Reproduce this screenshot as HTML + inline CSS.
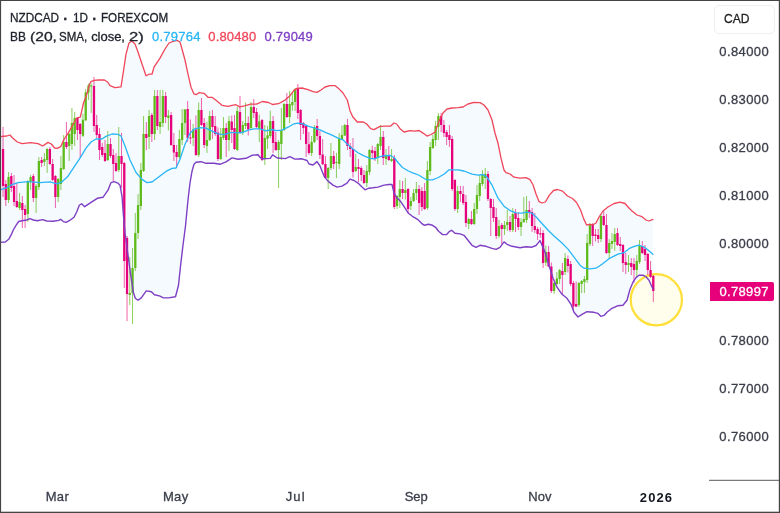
<!DOCTYPE html>
<html><head><meta charset="utf-8"><title>NZDCAD chart</title>
<style>
html,body{margin:0;padding:0;background:#fff;}
body{width:780px;height:513px;position:relative;overflow:hidden;font-family:"Liberation Sans",sans-serif;font-size:13px;color:#20232d;}
.t{position:absolute;white-space:nowrap;line-height:16px;-webkit-text-stroke:0.3px currentColor;}
.row{position:absolute;left:0;top:0;width:0;height:0;}
.cad{position:absolute;left:713.8px;top:5px;width:61.4px;height:28.8px;box-sizing:border-box;border:1px solid #efefef;border-radius:5px;}
.last{position:absolute;left:709.9px;top:281.9px;width:64.5px;height:19.1px;background:#e6007a;border-radius:0 2px 2px 0;color:#fff;}
</style></head><body>
<svg width="780" height="513" viewBox="0 0 780 513" style="position:absolute;left:0;top:0">
<polygon points="0.0,136.7 6.7,136.0 10.0,135.0 12.7,138.0 17.3,142.0 22.0,143.7 30.7,142.7 38.0,143.6 42.7,146.0 48.0,142.4 51.3,144.0 54.7,148.0 57.3,148.4 60.7,146.7 63.3,140.7 68.0,133.3 72.7,125.3 76.5,118.2 80.3,117.2 83.5,103.0 87.0,93.8 89.6,84.0 91.0,81.6 94.0,80.4 98.6,80.0 104.4,80.0 107.6,82.0 110.0,85.6 115.0,87.6 121.0,86.8 123.0,74.2 126.0,54.1 129.0,43.0 132.0,41.0 135.0,44.0 138.0,52.0 142.0,64.0 146.0,75.8 149.0,74.2 152.0,74.2 154.0,67.1 160.0,58.1 165.0,49.0 169.0,43.0 173.0,41.4 177.0,40.4 180.0,42.0 182.0,49.0 185.0,60.0 188.0,74.2 191.0,87.2 194.0,93.9 196.0,94.7 199.0,92.7 204.0,93.3 208.0,97.3 212.0,97.3 216.0,100.3 222.0,105.3 228.0,106.3 232.0,105.3 236.0,104.7 239.5,106.9 244.6,105.9 250.6,104.2 256.5,104.2 262.5,101.5 268.5,102.5 272.5,104.5 278.5,103.7 285.0,100.1 290.0,95.7 294.0,90.4 297.0,88.4 302.0,88.0 308.0,89.6 313.0,91.6 317.0,92.4 321.0,90.0 325.0,87.0 330.0,85.6 335.0,85.6 338.5,88.4 343.0,93.0 347.3,100.0 350.0,110.7 352.7,116.7 357.3,122.0 363.3,122.0 366.7,124.0 370.7,128.7 374.0,129.6 380.0,126.4 386.0,126.2 390.7,126.0 394.0,123.0 396.7,124.0 400.0,128.7 404.0,132.0 410.0,130.6 415.0,131.1 419.0,130.5 423.0,133.1 427.0,136.1 431.0,134.5 435.0,132.1 439.0,121.1 443.0,113.0 447.0,109.0 452.0,108.0 458.0,107.6 463.0,107.0 468.0,104.0 474.0,102.4 480.0,102.6 484.0,105.0 488.0,110.0 492.0,120.0 495.0,133.0 498.0,143.2 501.0,158.2 504.0,170.0 506.0,172.7 510.0,174.0 514.0,177.2 520.0,178.2 526.0,177.6 530.0,179.6 533.0,184.8 536.0,194.0 539.0,201.6 542.0,203.0 545.4,202.0 549.4,195.1 553.5,190.5 557.5,189.5 562.5,191.1 567.5,196.0 572.5,198.5 576.5,202.5 580.6,210.0 583.6,218.6 586.6,225.0 590.0,224.3 593.0,224.8 596.0,223.0 599.0,217.0 603.0,211.0 608.0,207.0 614.0,203.5 620.0,202.1 625.0,203.5 629.0,208.0 632.0,211.1 637.0,215.0 642.0,216.7 646.0,220.0 649.0,221.0 652.9,219.4 652.9,289.0 649.0,280.2 646.0,276.8 643.0,275.2 639.0,275.2 636.0,277.6 633.0,282.2 630.0,289.3 627.0,300.3 623.0,305.3 618.0,305.7 612.0,308.3 607.0,312.3 604.0,315.4 601.0,316.4 598.0,313.4 594.0,312.3 587.0,311.7 582.0,314.4 578.0,317.0 574.0,312.3 571.0,304.3 567.0,298.3 562.0,294.3 557.0,287.2 553.0,278.2 549.0,265.2 545.0,252.1 542.0,245.1 540.0,240.5 538.0,243.1 536.0,245.5 532.0,247.2 526.0,246.7 520.0,247.7 512.0,246.3 507.0,244.3 504.0,241.9 500.0,247.3 496.0,249.4 492.0,248.4 486.0,246.3 480.0,245.3 476.0,247.3 472.0,245.3 468.0,240.3 464.0,235.3 460.0,233.9 455.0,233.3 451.6,230.3 449.6,231.3 446.6,234.5 442.6,234.6 438.6,231.3 435.5,227.3 432.5,225.3 428.5,224.3 424.5,225.3 421.5,223.3 417.5,219.3 412.4,216.3 408.4,213.3 404.4,207.2 400.4,201.2 396.4,197.2 394.0,193.2 392.0,184.5 389.0,184.5 384.0,185.1 378.0,187.1 373.0,187.8 369.0,188.2 365.0,189.8 362.0,187.1 358.0,183.1 354.0,180.5 350.0,179.1 347.0,183.1 342.0,186.1 337.0,187.1 333.0,185.1 328.0,181.1 324.0,176.1 320.0,166.0 317.0,161.6 313.0,165.0 309.0,164.0 307.0,160.5 302.0,158.8 294.8,159.1 289.9,156.6 285.5,158.6 277.3,158.0 272.6,154.8 270.2,158.4 262.5,158.8 260.0,157.3 258.0,154.7 252.0,155.3 246.0,158.3 238.0,159.3 232.0,157.9 226.0,161.9 220.0,164.3 214.0,163.3 206.0,163.3 201.0,161.7 196.0,162.3 194.0,164.3 192.0,171.4 190.0,183.0 188.0,200.0 185.5,226.0 182.9,246.0 180.5,266.2 178.5,285.2 175.5,296.7 168.4,297.9 163.4,297.9 159.4,295.9 154.4,294.7 151.4,291.7 146.3,290.9 141.3,297.9 138.0,300.3 135.3,298.3 133.3,292.3 130.3,272.0 127.3,250.0 125.0,233.0 123.5,216.4 122.0,196.3 120.0,185.2 118.0,183.2 114.0,181.6 111.0,182.6 108.0,190.2 103.0,197.3 97.3,198.3 90.7,202.7 84.7,206.7 81.6,203.7 79.3,205.3 76.7,212.0 74.0,217.3 69.3,220.7 66.0,222.4 63.3,221.6 60.7,219.3 58.7,220.4 53.3,221.3 46.7,221.0 42.7,219.6 37.3,220.7 33.3,220.0 30.0,218.7 26.7,220.0 22.0,220.7 18.7,221.5 16.0,225.3 13.3,230.0 11.3,234.7 8.7,239.3 5.3,242.0 0.0,242.4" fill="#2196f3" fill-opacity="0.05"/>
<circle cx="656.35" cy="299.8" r="25.6" fill="#ffeb3b" fill-opacity="0.1" stroke="#ffdf38" stroke-width="2.2"/>
<path d="M8.56 172.0V203.0M19.58 193.0V210.0M27.85 180.0V222.0M30.60 175.0V190.0M36.11 184.0V213.0M38.87 157.0V190.0M44.38 153.0V166.0M47.13 148.0V173.0M58.16 178.0V202.0M60.91 156.0V190.0M63.67 135.0V170.0M69.18 133.0V161.0M71.93 108.0V150.0M74.69 112.0V146.0M82.95 113.7V137.0M85.71 89.0V121.0M88.46 83.8V100.0M91.22 83.5V113.0M107.75 131.0V161.0M118.77 127.0V172.0M129.79 257.0V305.0M132.55 248.0V324.0M135.30 213.0V271.0M138.06 194.0V239.0M140.82 163.0V210.0M143.57 116.0V172.0M149.08 110.0V149.0M154.59 90.0V140.0M160.10 90.0V134.0M162.86 90.0V127.0M168.37 110.0V130.5M179.39 130.0V159.0M182.14 109.0V145.0M184.90 109.0V135.0M193.17 124.0V146.0M198.68 102.5V157.0M206.94 121.5V153.0M209.70 111.0V141.0M220.72 128.0V160.0M223.47 117.0V140.0M228.98 116.0V151.0M237.25 107.0V151.0M242.76 121.0V135.0M245.52 102.5V129.0M251.03 102.0V129.0M259.29 114.7V142.0M264.80 125.0V165.0M267.56 126.0V149.0M270.31 110.7V138.0M278.58 140.0V188.0M281.34 108.0V160.0M284.09 103.0V131.0M289.60 91.0V123.0M292.36 92.0V110.7M295.11 88.0V111.0M311.64 136.0V156.0M314.40 125.0V143.0M328.18 167.0V189.0M330.93 143.0V170.0M336.44 153.0V178.0M339.20 133.0V169.0M341.95 125.5V140.0M344.71 124.0V136.0M355.73 154.0V172.0M366.75 165.0V187.0M369.50 149.0V175.0M377.77 143.0V164.0M380.53 125.0V150.0M386.04 149.0V165.0M391.55 149.0V162.0M397.06 195.0V209.0M399.81 180.0V208.0M405.32 178.0V199.5M410.83 197.0V210.0M413.59 189.0V202.0M416.35 182.0V200.0M427.37 161.0V210.0M430.12 142.0V175.0M432.88 135.0V149.0M435.63 121.0V146.0M438.39 113.0V140.0M457.67 186.0V213.0M468.70 218.0V229.0M474.21 203.0V225.0M476.96 185.0V214.0M479.72 175.0V201.0M482.47 170.0V186.0M485.23 168.0V189.0M499.00 220.0V238.0M504.51 221.0V235.0M507.27 210.0V231.0M512.78 208.0V232.0M521.05 218.0V236.0M523.80 197.0V223.0M526.56 196.0V223.0M545.84 245.5V266.0M554.11 282.0V294.0M556.87 272.0V285.0M559.62 269.0V284.0M565.13 253.0V275.0M578.91 282.0V307.0M581.66 280.0V293.0M584.42 276.0V293.0M587.17 234.0V283.0M589.93 223.0V246.0M600.95 214.0V242.0M609.22 239.0V259.0M611.97 233.0V249.0M614.73 228.0V251.0M628.50 255.0V272.0M636.77 255.0V278.0M639.52 240.0V264.0" stroke="#5fbb1c" stroke-opacity="0.72" stroke-width="1" fill="none"/>
<path d="M3.05 127.0V197.0M5.81 180.0V206.0M11.32 173.0V192.0M14.07 175.0V206.0M16.83 183.0V208.0M22.34 196.0V228.0M25.09 205.0V228.0M33.36 174.0V202.0M41.62 157.0V167.0M49.89 147.0V165.0M52.65 159.0V181.0M55.40 175.0V208.0M66.42 122.0V149.0M77.44 117.0V140.0M80.20 123.0V158.0M93.97 77.0V132.0M96.73 115.0V138.0M99.49 128.0V160.0M102.24 143.0V157.0M105.00 140.0V162.0M110.51 138.0V158.0M113.26 149.0V181.0M116.02 153.0V172.0M121.53 133.0V188.0M124.28 162.0V288.0M127.04 236.0V321.0M146.33 122.0V150.0M151.84 113.0V142.0M157.35 90.0V130.0M165.61 92.0V123.0M171.12 112.0V146.0M173.88 133.0V161.0M176.63 145.0V168.0M187.66 101.0V142.0M190.41 119.5V144.0M195.92 115.5V156.0M201.43 98.0V126.0M204.19 118.0V148.0M212.45 110.0V139.0M215.21 116.0V136.0M217.96 127.5V161.0M226.23 123.0V157.0M231.74 115.5V143.0M234.50 115.0V150.0M240.01 96.0V134.0M248.27 116.5V135.5M253.78 99.0V118.0M256.54 108.0V128.0M262.05 119.0V161.0M273.07 116.0V153.0M275.82 132.0V151.0M286.85 93.0V118.0M297.87 84.0V119.0M300.62 109.0V140.0M303.38 122.0V134.0M306.13 125.0V157.0M308.89 132.0V155.0M317.15 119.0V140.0M319.91 131.0V159.0M322.66 139.0V165.0M325.42 156.0V179.0M333.69 151.0V169.0M347.46 119.0V150.0M350.22 143.0V157.0M352.97 138.0V177.5M358.48 159.0V182.0M361.24 166.0V181.0M363.99 170.0V184.0M372.26 145.7V158.5M375.02 147.0V161.0M383.28 131.0V165.0M388.79 146.0V161.0M394.30 155.0V209.0M402.57 181.0V199.0M408.08 188.0V213.0M419.10 185.0V215.0M421.86 187.0V211.0M424.61 183.0V210.0M441.14 113.0V132.0M443.90 120.0V137.0M446.65 130.0V145.0M449.41 125.0V147.0M452.16 136.0V191.0M454.92 179.0V211.0M460.43 186.0V202.0M463.19 186.0V205.0M465.94 195.0V227.0M471.45 211.0V225.0M487.98 171.0V201.0M490.74 198.0V236.0M493.49 199.0V222.0M496.25 208.0V239.0M501.76 223.0V244.0M510.03 216.0V232.0M515.54 209.0V232.0M518.29 212.0V230.0M529.31 201.0V218.0M532.07 208.0V232.0M534.82 213.0V233.0M537.58 227.0V240.0M540.33 227.5V238.0M543.09 230.0V268.0M548.60 246.0V267.0M551.35 262.5V293.0M562.38 263.0V294.0M567.89 255.5V272.5M570.64 261.0V286.0M573.40 281.0V310.0M576.15 281.5V307.0M592.68 223.0V246.0M595.44 229.0V241.5M598.19 229.0V243.0M603.71 211.0V226.0M606.46 214.0V254.0M617.48 228.0V246.0M620.24 237.0V251.0M622.99 244.0V272.0M625.75 253.0V274.0M631.26 258.0V275.0M634.01 258.0V283.0M642.28 241.0V254.0M645.03 245.0V261.0M647.79 253.0V275.0M650.55 261.0V278.0M653.30 275.0V302.0" stroke="#e6007a" stroke-opacity="0.62" stroke-width="1" fill="none"/>
<path d="M8.56 177.0V200.0M19.58 202.0V208.0M27.85 181.0V214.0M30.60 177.0V182.0M36.11 186.0V198.0M38.87 161.0V187.0M44.38 159.0V162.0M47.13 149.0V160.0M58.16 179.0V197.0M60.91 168.0V184.0M63.67 142.0V169.0M69.18 134.0V146.0M71.93 123.0V144.0M74.69 118.0V134.0M82.95 119.7V135.7M85.71 92.3V120.3M88.46 85.4V92.5M91.22 85.5V86.5M107.75 144.0V160.0M118.77 156.0V170.0M129.79 293.0V295.0M132.55 268.0V293.0M135.30 233.0V268.0M138.06 205.0V233.0M140.82 170.0V206.0M143.57 134.0V171.0M149.08 116.0V137.0M154.59 96.0V134.0M160.10 122.0V127.0M162.86 96.0V123.0M168.37 115.5V118.0M179.39 139.0V157.0M182.14 123.0V140.0M184.90 109.5V123.0M193.17 129.5V138.0M198.68 110.0V155.0M206.94 140.0V146.0M209.70 116.0V140.0M220.72 137.0V159.0M223.47 128.0V138.0M228.98 121.0V140.0M237.25 111.0V150.0M242.76 125.0V133.0M245.52 123.0V126.0M251.03 107.0V128.0M259.29 121.3V128.7M264.80 138.0V159.0M267.56 135.3V138.7M270.31 121.0V136.0M278.58 142.0V150.0M281.34 130.0V144.0M284.09 104.0V130.0M289.60 104.0V117.0M292.36 102.0V105.3M295.11 89.0V102.0M311.64 142.0V153.0M314.40 127.0V142.0M328.18 168.0V178.0M330.93 156.0V168.0M336.44 162.0V163.0M339.20 139.0V164.0M341.95 135.0V139.5M344.71 125.0V135.5M355.73 167.0V171.0M366.75 171.0V183.0M369.50 150.0V172.0M377.77 144.0V158.0M380.53 137.0V146.0M386.04 155.0V159.0M391.55 159.0V161.0M397.06 196.0V206.0M399.81 189.0V197.0M405.32 190.0V193.0M410.83 201.0V206.0M413.59 193.0V201.0M416.35 189.0V193.0M427.37 170.0V208.0M430.12 147.0V171.0M432.88 139.0V148.0M435.63 126.0V140.0M438.39 116.0V127.0M457.67 191.0V209.0M468.70 219.0V224.0M474.21 209.0V224.0M476.96 195.0V209.0M479.72 183.0V196.0M482.47 175.0V184.0M485.23 174.0V178.0M499.00 226.0V236.0M504.51 225.0V229.0M507.27 222.0V225.0M512.78 214.0V230.0M521.05 222.0V227.0M523.80 219.0V222.0M526.56 210.0V220.0M545.84 252.0V262.5M554.11 283.0V291.0M556.87 278.5V284.0M559.62 270.0V279.0M565.13 258.0V272.0M578.91 283.0V305.0M581.66 281.0V284.0M584.42 279.0V282.0M587.17 243.0V280.0M589.93 224.0V244.0M600.95 216.0V239.0M609.22 243.0V253.0M611.97 241.0V244.0M614.73 234.0V242.0M628.50 263.0V265.0M636.77 261.0V270.0M639.52 246.0V262.0" stroke="#5fbb1c" stroke-width="2.3" fill="none"/>
<path d="M3.05 149.0V186.0M5.81 184.0V200.0M11.32 176.0V188.0M14.07 186.0V202.0M16.83 201.0V207.0M22.34 203.0V210.0M25.09 209.0V215.0M33.36 176.0V198.0M41.62 160.0V163.0M49.89 149.0V164.0M52.65 164.0V180.0M55.40 176.0V197.0M66.42 142.0V147.0M77.44 118.0V130.0M80.20 124.0V134.0M93.97 86.0V126.0M96.73 125.0V135.0M99.49 134.0V150.0M102.24 147.0V155.0M105.00 153.0V161.0M110.51 144.0V156.0M113.26 155.0V164.0M116.02 163.0V171.0M121.53 156.0V164.0M124.28 163.0V261.0M127.04 238.0V294.0M146.33 134.0V138.0M151.84 115.0V134.0M157.35 96.0V126.0M165.61 96.0V117.0M171.12 115.0V145.0M173.88 145.0V152.5M176.63 152.0V157.0M187.66 109.0V138.0M190.41 137.5V138.5M195.92 129.5V155.0M201.43 110.0V125.0M204.19 123.0V145.0M212.45 116.0V127.0M215.21 126.0V134.0M217.96 132.5V159.0M226.23 128.0V140.0M231.74 121.5V130.0M234.50 128.0V149.0M240.01 112.0V133.0M248.27 123.0V129.5M253.78 107.0V113.0M256.54 112.0V127.0M262.05 120.0V160.0M273.07 121.0V143.0M275.82 142.0V150.0M286.85 104.0V117.0M297.87 89.0V113.0M300.62 110.0V125.0M303.38 123.0V128.0M306.13 126.0V144.0M308.89 144.3V153.0M317.15 126.0V136.0M319.91 136.0V155.0M322.66 154.5V164.3M325.42 164.0V178.0M333.69 156.0V164.0M347.46 125.0V146.0M350.22 146.0V149.0M352.97 149.0V172.0M358.48 167.0V169.0M361.24 168.0V175.0M363.99 175.0V183.0M372.26 150.3V153.0M375.02 151.0V159.0M383.28 137.0V158.0M388.79 155.0V160.0M394.30 158.0V207.0M402.57 189.0V193.0M408.08 189.0V209.0M419.10 189.0V203.0M421.86 191.0V207.0M424.61 191.0V209.0M441.14 116.0V125.0M443.90 125.0V133.0M446.65 132.0V137.0M449.41 135.0V140.0M452.16 139.0V189.0M454.92 180.0V209.0M460.43 191.0V194.0M463.19 194.0V203.0M465.94 202.0V223.0M471.45 219.0V224.0M487.98 174.0V199.0M490.74 199.0V208.0M493.49 207.0V218.0M496.25 217.0V236.0M501.76 225.0V229.0M510.03 222.0V230.0M515.54 213.0V219.0M518.29 218.0V227.0M529.31 210.0V213.0M532.07 212.0V226.0M534.82 226.0V230.0M537.58 229.0V234.0M540.33 233.2V234.6M543.09 233.0V263.0M548.60 252.0V266.5M551.35 266.5V291.0M562.38 271.0V275.0M567.89 259.0V266.0M570.64 264.0V284.0M573.40 283.0V306.5M576.15 304.0V306.5M592.68 224.0V236.0M595.44 234.5V236.0M598.19 235.0V239.0M603.71 216.0V225.0M606.46 225.0V253.0M617.48 233.0V245.0M620.24 244.0V246.0M622.99 245.0V263.0M625.75 262.0V265.0M631.26 263.0V267.0M634.01 264.0V270.0M642.28 246.0V253.0M645.03 249.0V255.0M647.79 254.0V270.0M650.55 270.0V277.0M653.30 276.0V291.0" stroke="#e6007a" stroke-width="2.3" fill="none"/>
<polyline points="0.0,189.8 6.0,188.2 12.0,184.6 18.0,182.6 28.0,181.6 40.0,182.6 50.0,181.8 57.0,183.8 62.0,181.8 68.0,176.2 74.0,167.1 80.0,158.1 86.0,148.1 91.0,142.0 96.0,139.0 102.0,139.0 106.0,136.4 112.0,134.0 118.0,134.4 121.0,136.0 125.0,146.0 130.0,160.0 136.0,172.5 142.0,179.4 147.0,182.6 152.0,182.0 158.0,177.4 166.0,171.4 172.0,168.4 176.0,168.0 180.0,159.3 185.0,144.3 190.0,133.2 194.0,129.2 200.0,127.6 206.0,128.2 212.0,131.2 218.0,133.8 224.0,134.6 230.0,132.6 236.0,132.6 242.0,132.6 248.0,130.2 254.0,128.8 260.0,128.8 266.0,130.8 272.0,129.5 276.0,130.6 282.0,130.2 288.0,127.2 294.0,123.8 298.0,123.2 303.0,123.8 308.0,126.2 314.0,127.8 320.0,129.8 326.0,132.6 332.0,135.2 338.0,138.2 343.0,139.8 347.0,143.9 352.0,148.3 358.0,152.7 364.0,155.9 370.0,158.3 374.4,158.9 379.4,156.9 384.5,155.6 390.5,155.5 394.5,158.0 398.0,162.5 402.4,167.5 408.4,171.0 412.6,172.8 418.6,175.0 422.5,177.5 426.5,179.8 432.5,179.8 438.3,177.5 444.3,174.0 449.0,169.8 453.0,169.8 458.0,169.8 464.0,171.0 472.0,174.1 478.0,175.1 483.0,174.5 487.0,177.1 492.0,185.1 498.0,198.2 504.0,206.2 510.0,210.6 516.0,212.8 522.0,213.2 527.0,212.2 532.0,213.2 536.4,217.2 542.4,224.0 548.4,230.5 554.0,236.0 562.0,243.0 568.0,249.1 574.0,257.1 580.0,265.2 584.0,268.2 590.0,268.8 596.0,268.2 602.0,264.2 610.0,258.1 618.0,254.1 624.0,252.7 630.0,248.1 635.0,246.1 639.0,245.1 644.0,247.1 648.0,250.1 652.9,254.3" fill="none" stroke="#29b6f6" stroke-width="1.3" stroke-linejoin="round" stroke-linecap="round"/>
<polyline points="0.0,136.7 6.7,136.0 10.0,135.0 12.7,138.0 17.3,142.0 22.0,143.7 30.7,142.7 38.0,143.6 42.7,146.0 48.0,142.4 51.3,144.0 54.7,148.0 57.3,148.4 60.7,146.7 63.3,140.7 68.0,133.3 72.7,125.3 76.5,118.2 80.3,117.2 83.5,103.0 87.0,93.8 89.6,84.0 91.0,81.6 94.0,80.4 98.6,80.0 104.4,80.0 107.6,82.0 110.0,85.6 115.0,87.6 121.0,86.8 123.0,74.2 126.0,54.1 129.0,43.0 132.0,41.0 135.0,44.0 138.0,52.0 142.0,64.0 146.0,75.8 149.0,74.2 152.0,74.2 154.0,67.1 160.0,58.1 165.0,49.0 169.0,43.0 173.0,41.4 177.0,40.4 180.0,42.0 182.0,49.0 185.0,60.0 188.0,74.2 191.0,87.2 194.0,93.9 196.0,94.7 199.0,92.7 204.0,93.3 208.0,97.3 212.0,97.3 216.0,100.3 222.0,105.3 228.0,106.3 232.0,105.3 236.0,104.7 239.5,106.9 244.6,105.9 250.6,104.2 256.5,104.2 262.5,101.5 268.5,102.5 272.5,104.5 278.5,103.7 285.0,100.1 290.0,95.7 294.0,90.4 297.0,88.4 302.0,88.0 308.0,89.6 313.0,91.6 317.0,92.4 321.0,90.0 325.0,87.0 330.0,85.6 335.0,85.6 338.5,88.4 343.0,93.0 347.3,100.0 350.0,110.7 352.7,116.7 357.3,122.0 363.3,122.0 366.7,124.0 370.7,128.7 374.0,129.6 380.0,126.4 386.0,126.2 390.7,126.0 394.0,123.0 396.7,124.0 400.0,128.7 404.0,132.0 410.0,130.6 415.0,131.1 419.0,130.5 423.0,133.1 427.0,136.1 431.0,134.5 435.0,132.1 439.0,121.1 443.0,113.0 447.0,109.0 452.0,108.0 458.0,107.6 463.0,107.0 468.0,104.0 474.0,102.4 480.0,102.6 484.0,105.0 488.0,110.0 492.0,120.0 495.0,133.0 498.0,143.2 501.0,158.2 504.0,170.0 506.0,172.7 510.0,174.0 514.0,177.2 520.0,178.2 526.0,177.6 530.0,179.6 533.0,184.8 536.0,194.0 539.0,201.6 542.0,203.0 545.4,202.0 549.4,195.1 553.5,190.5 557.5,189.5 562.5,191.1 567.5,196.0 572.5,198.5 576.5,202.5 580.6,210.0 583.6,218.6 586.6,225.0 590.0,224.3 593.0,224.8 596.0,223.0 599.0,217.0 603.0,211.0 608.0,207.0 614.0,203.5 620.0,202.1 625.0,203.5 629.0,208.0 632.0,211.1 637.0,215.0 642.0,216.7 646.0,220.0 649.0,221.0 652.9,219.4" fill="none" stroke="#f0465a" stroke-width="1.3" stroke-linejoin="round" stroke-linecap="round"/>
<polyline points="0.0,242.4 5.3,242.0 8.7,239.3 11.3,234.7 13.3,230.0 16.0,225.3 18.7,221.5 22.0,220.7 26.7,220.0 30.0,218.7 33.3,220.0 37.3,220.7 42.7,219.6 46.7,221.0 53.3,221.3 58.7,220.4 60.7,219.3 63.3,221.6 66.0,222.4 69.3,220.7 74.0,217.3 76.7,212.0 79.3,205.3 81.6,203.7 84.7,206.7 90.7,202.7 97.3,198.3 103.0,197.3 108.0,190.2 111.0,182.6 114.0,181.6 118.0,183.2 120.0,185.2 122.0,196.3 123.5,216.4 125.0,233.0 127.3,250.0 130.3,272.0 133.3,292.3 135.3,298.3 138.0,300.3 141.3,297.9 146.3,290.9 151.4,291.7 154.4,294.7 159.4,295.9 163.4,297.9 168.4,297.9 175.5,296.7 178.5,285.2 180.5,266.2 182.9,246.0 185.5,226.0 188.0,200.0 190.0,183.0 192.0,171.4 194.0,164.3 196.0,162.3 201.0,161.7 206.0,163.3 214.0,163.3 220.0,164.3 226.0,161.9 232.0,157.9 238.0,159.3 246.0,158.3 252.0,155.3 258.0,154.7 260.0,157.3 262.5,158.8 270.2,158.4 272.6,154.8 277.3,158.0 285.5,158.6 289.9,156.6 294.8,159.1 302.0,158.8 307.0,160.5 309.0,164.0 313.0,165.0 317.0,161.6 320.0,166.0 324.0,176.1 328.0,181.1 333.0,185.1 337.0,187.1 342.0,186.1 347.0,183.1 350.0,179.1 354.0,180.5 358.0,183.1 362.0,187.1 365.0,189.8 369.0,188.2 373.0,187.8 378.0,187.1 384.0,185.1 389.0,184.5 392.0,184.5 394.0,193.2 396.4,197.2 400.4,201.2 404.4,207.2 408.4,213.3 412.4,216.3 417.5,219.3 421.5,223.3 424.5,225.3 428.5,224.3 432.5,225.3 435.5,227.3 438.6,231.3 442.6,234.6 446.6,234.5 449.6,231.3 451.6,230.3 455.0,233.3 460.0,233.9 464.0,235.3 468.0,240.3 472.0,245.3 476.0,247.3 480.0,245.3 486.0,246.3 492.0,248.4 496.0,249.4 500.0,247.3 504.0,241.9 507.0,244.3 512.0,246.3 520.0,247.7 526.0,246.7 532.0,247.2 536.0,245.5 538.0,243.1 540.0,240.5 542.0,245.1 545.0,252.1 549.0,265.2 553.0,278.2 557.0,287.2 562.0,294.3 567.0,298.3 571.0,304.3 574.0,312.3 578.0,317.0 582.0,314.4 587.0,311.7 594.0,312.3 598.0,313.4 601.0,316.4 604.0,315.4 607.0,312.3 612.0,308.3 618.0,305.7 623.0,305.3 627.0,300.3 630.0,289.3 633.0,282.2 636.0,277.6 639.0,275.2 643.0,275.2 646.0,276.8 649.0,280.2 652.9,289.0" fill="none" stroke="#7e3fc4" stroke-width="1.4" stroke-linejoin="round" stroke-linecap="round"/>
<rect x="709" y="479.8" width="71" height="1" fill="#5a5a5a"/>
<rect x="0" y="0" width="780" height="1" fill="#454545"/>
<rect x="0" y="0" width="1.1" height="513" fill="#454545"/>
<rect x="778.8" y="0" width="1.2" height="513" fill="#454545"/>
<rect x="0" y="511.7" width="780" height="1.3" fill="#454545"/>
</svg>
<div class="cad"></div>
<div class="last"></div>
<div class="row"><span class="t" style="left:10.30px;top:10.0px;transform-origin:0 0;transform:scaleX(0.9048);">NZDCAD</span> <span class="t" style="left:61.85px;top:9.4px;font-size:21px;">·</span> <span class="t" style="left:72.85px;top:10.0px;transform-origin:0 0;transform:scaleX(0.9000);">1D</span> <span class="t" style="left:90.85px;top:9.4px;font-size:21px;">·</span> <span class="t" style="left:101.00px;top:10.0px;transform-origin:0 0;transform:scaleX(0.8959);">FOREXCOM</span></div>
<div class="row"><span class="t" style="left:10.30px;top:29.0px;transform-origin:0 0;transform:scaleX(0.9162);">BB</span> <span class="t" style="left:30.40px;top:29.0px;transform-origin:0 0;transform:scaleX(1.2026);">(20,</span> <span class="t" style="left:58.75px;top:29.0px;transform-origin:0 0;transform:scaleX(0.8867);">SMA,</span> <span class="t" style="left:91.15px;top:29.0px;letter-spacing:-0.030px;">close,</span> <span class="t" style="left:128.90px;top:29.0px;transform-origin:0 0;transform:scaleX(1.2783);">2)</span></div>
<div class="t" style="left:152.00px;top:29.0px;letter-spacing:0.250px;color:#29b6f6;">0.79764</div>
<div class="t" style="left:208.25px;top:29.0px;letter-spacing:0.167px;color:#f0465a;">0.80480</div>
<div class="t" style="left:264.50px;top:29.0px;letter-spacing:0.208px;color:#7e3fc4;">0.79049</div>
<div class="t" style="left:723.60px;top:11.0px;transform-origin:0 0;transform:scaleX(0.9296);color:#1e1e1e;">CAD</div>
<div class="t" style="left:45.65px;top:489.0px;letter-spacing:0.400px;color:#3a3e49;">Mar</div>
<div class="t" style="left:162.95px;top:489.0px;letter-spacing:0.325px;color:#3a3e49;">May</div>
<div class="t" style="left:285.80px;top:489.0px;letter-spacing:1.075px;color:#3a3e49;">Jul</div>
<div class="t" style="left:404.80px;top:489.0px;letter-spacing:-0.100px;color:#3a3e49;">Sep</div>
<div class="t" style="left:528.15px;top:489.0px;letter-spacing:0.150px;color:#3a3e49;">Nov</div>
<div class="t" style="left:639.85px;top:489.7px;letter-spacing:1.067px;color:#131722;font-weight:bold;-webkit-text-stroke:0;">2026</div>
<div class="t" style="left:719.50px;top:284.0px;letter-spacing:0.325px;color:#fff;">0.78997</div>
<div class="t" style="left:719.30px;top:44.0px;letter-spacing:0.408px;color:#3a3e49;">0.84000</div>
<div class="t" style="left:719.30px;top:92.1px;letter-spacing:0.408px;color:#3a3e49;">0.83000</div>
<div class="t" style="left:719.30px;top:140.2px;letter-spacing:0.408px;color:#3a3e49;">0.82000</div>
<div class="t" style="left:719.30px;top:188.3px;letter-spacing:0.408px;color:#3a3e49;">0.81000</div>
<div class="t" style="left:719.30px;top:236.4px;letter-spacing:0.408px;color:#3a3e49;">0.80000</div>
<div class="t" style="left:719.30px;top:332.6px;letter-spacing:0.408px;color:#3a3e49;">0.78000</div>
<div class="t" style="left:719.30px;top:380.7px;letter-spacing:0.408px;color:#3a3e49;">0.77000</div>
<div class="t" style="left:719.30px;top:428.8px;letter-spacing:0.408px;color:#3a3e49;">0.76000</div>
</body></html>
